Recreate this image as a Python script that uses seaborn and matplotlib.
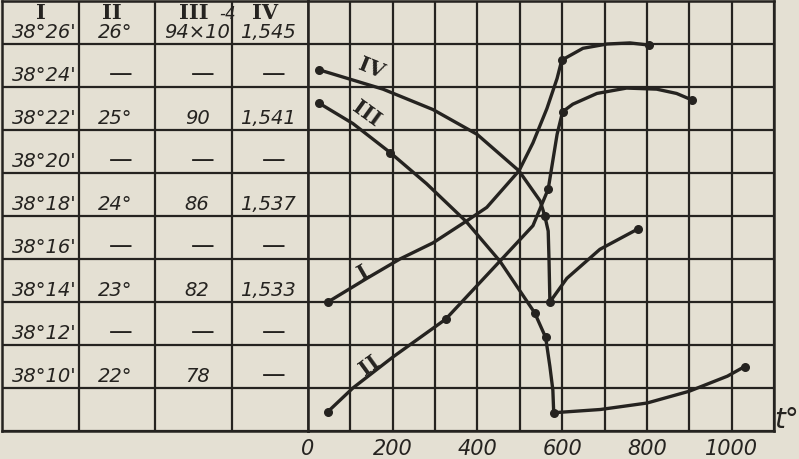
import matplotlib.pyplot as plt
import seaborn as sns
from matplotlib.ticker import MultipleLocator

PAPER = "#e4e0d3"
INK = "#252320"

# left table: one row per grid line (arc minutes above 38 degrees)
row_minutes = [26, 24, 22, 20, 18, 16, 14, 12, 10]
col_I = ["38°26'", "38°24'", "38°22'", "38°20'", "38°18'", "38°16'", "38°14'", "38°12'", "38°10'"]
col_II = ["26°", "—", "25°", "—", "24°", "—", "23°", "—", "22°"]
col_III = ["94×10", "—", "90", "—", "86", "—", "82", "—", "78"]
col_IV = ["1,545", "—", "1,541", "—", "1,537", "—", "1,533", "—", "—"]
headers = ["I", "II", "III", "IV"]

# curves: t (deg C) and position on the common scale
curve_I_t = [47, 139, 217, 295, 373, 422, 498, 531, 564, 588, 599, 649, 706, 760, 805]
curve_I_y = [14.0, 15.1, 16.0, 16.75, 17.75, 18.4, 20.1, 21.4, 23.0, 24.4, 25.25, 25.8, 26.0, 26.05, 25.95]
curve_I_marks = [0, 10, 14]

curve_II_t = [47, 106, 201, 325, 453, 531, 567, 588, 601, 625, 682, 752, 823, 870, 906]
curve_II_y = [8.9, 10.0, 11.45, 13.2, 15.9, 17.55, 19.25, 21.8, 22.85, 23.2, 23.7, 23.95, 23.9, 23.7, 23.4]
curve_II_marks = [0, 3, 6, 8, 14]

curve_III_t = [26, 106, 194, 280, 373, 453, 535, 561, 571, 578, 580, 690, 800, 900, 990, 1031]
curve_III_y = [23.25, 22.3, 20.95, 19.5, 17.75, 15.9, 13.5, 12.35, 11.0, 9.9, 8.85, 9.0, 9.3, 9.85, 10.55, 11.0]
curve_III_marks = [0, 2, 6, 7, 10, 15]

curve_IV_t = [26, 177, 295, 399, 498, 548, 559, 567, 569, 571, 611, 689, 779]
curve_IV_y = [24.8, 23.9, 22.95, 21.8, 20.1, 18.7, 18.0, 17.3, 15.9, 14.0, 15.1, 16.45, 17.4]
curve_IV_marks = [0, 6, 9, 12]

# curve names written along the curves: (t, y, rotation)
curve_labels = {"I": (130, 15.4, 30), "II": (146, 11.05, 36),
                "III": (139, 22.75, -36), "IV": (150, 24.85, -22)}

fig = plt.figure(figsize=(7.99, 4.59), dpi=100, facecolor=PAPER)
ax_tab = fig.add_axes([2 / 799, 28 / 459, 306 / 799, 430 / 459])
ax = fig.add_axes([308 / 799, 28 / 459, 466 / 799, 430 / 459])

for a in (ax_tab, ax):
    a.set_facecolor(PAPER)
    a.set_ylim(8, 28)
    a.yaxis.set_major_locator(MultipleLocator(2))
    a.set_yticklabels([])
    a.tick_params(length=0)
    for sp in a.spines.values():
        sp.set_color(INK)
        sp.set_linewidth(1.8)

# table grid
ax_tab.set_xlim(0, 4)
ax_tab.set_xticks([1, 2, 3])
ax_tab.set_xticklabels([])
ax_tab.grid(True, color=INK, linewidth=1.6)

num_font = dict(fontsize=14, style="italic", color=INK, ha="center", va="center")
roman_font = dict(fontsize=15, family="DejaVu Serif", weight="bold", color=INK,
                  ha="center", va="center")
col_x = [0.55, 1.48, 2.55, 3.48]
for col, values in enumerate([col_I, col_II, col_III, col_IV]):
    for m, txt in zip(row_minutes, values):
        if txt == "—":
            ax_tab.text(col_x[col] + 0.07, m + 0.6, txt, fontsize=17, color=INK,
                        ha="center", va="center")
        else:
            ax_tab.text(col_x[col], m + 0.55, txt, **num_font)
    ax_tab.text(col_x[col] - 0.04, 27.45, headers[col], **roman_font)
ax_tab.text(2.95, 27.4, "-4", fontsize=12, style="italic", color=INK,
            ha="center", va="center")

# chart grid
ax.set_xlim(0, 1100)
ax.xaxis.set_major_locator(MultipleLocator(200))
ax.xaxis.set_minor_locator(MultipleLocator(100))
ax.grid(True, which="both", color=INK, linewidth=1.6)
ax.tick_params(axis="x", which="both", length=0, pad=6, labelsize=15, labelcolor=INK)
ax.text(1.026, 0.025, "t°", transform=ax.transAxes, fontsize=20, style="italic",
        color=INK, ha="center", va="center", clip_on=False)

curves = [(curve_I_t, curve_I_y, curve_I_marks),
          (curve_II_t, curve_II_y, curve_II_marks),
          (curve_III_t, curve_III_y, curve_III_marks),
          (curve_IV_t, curve_IV_y, curve_IV_marks)]
for t, y, marks in curves:
    sns.lineplot(x=t, y=y, sort=False, estimator=None, color=INK, linewidth=2.4, ax=ax,
                 zorder=4)
    sns.scatterplot(x=[t[i] for i in marks], y=[y[i] for i in marks], s=30, color=INK,
                    edgecolor=INK, linewidth=1, ax=ax, zorder=5)

for name, (t, y, rot) in curve_labels.items():
    ax.text(t, y, name, fontsize=15, family="DejaVu Serif", weight="bold", color=INK,
            rotation=rot, ha="center", va="center", zorder=6)

ax.set_xlabel("")
ax.set_ylabel("")
ax.set_xlim(0, 1100)
ax.set_xticks([0, 200, 400, 600, 800, 1000])
ax.set_xticklabels(["0", "200", "400", "600", "800", "1000"], style="italic")

fig.savefig("out.png", dpi=100, facecolor=PAPER)
